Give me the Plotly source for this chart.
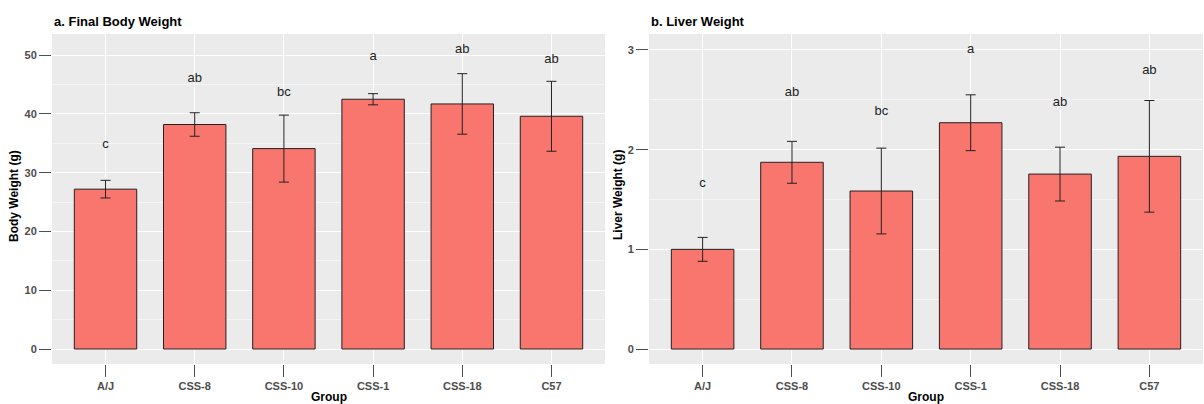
import plotly.graph_objects as go

groups = ["A/J", "CSS-8", "CSS-10", "CSS-1", "CSS-18", "C57"]

body_mean = [27.2, 38.2, 34.1, 42.5, 41.7, 39.6]
body_sd = [1.5, 2.0, 5.7, 0.95, 5.15, 5.95]
body_letters = ["c", "ab", "bc", "a", "ab", "ab"]
body_letter_y = [34.7, 46.0, 43.6, 49.8, 51.0, 49.3]

liver_mean = [1.00, 1.873, 1.585, 2.27, 1.755, 1.933]
liver_sd = [0.12, 0.21, 0.43, 0.28, 0.27, 0.56]
liver_letters = ["c", "ab", "bc", "a", "ab", "ab"]
liver_letter_y = [1.655, 2.57, 2.38, 3.0, 2.47, 2.79]

body_ticks = [0, 10, 20, 30, 40, 50]
liver_ticks = [0, 1, 2, 3]

W, H = 1204, 404
FONT = "Liberation Sans, Arial, Helvetica, sans-serif"
BAR = "#F8766D"

def fx(px):
    return px / W

def fy(py):
    return (H - py) / H

fig = go.Figure()

for i, (mean, sd, letters, ly, xa, ya) in enumerate([
    (body_mean, body_sd, body_letters, body_letter_y, "x", "y"),
    (liver_mean, liver_sd, liver_letters, liver_letter_y, "x2", "y2"),
]):
    fig.add_trace(go.Bar(
        x=groups, y=mean, xaxis=xa, yaxis=ya, width=0.7,
        marker=dict(color=BAR, line=dict(color="#222222", width=1)),
        error_y=dict(type="data", array=sd, visible=True, color="#222222",
                     thickness=1, width=5),
        showlegend=False, hoverinfo="skip",
    ))
    fig.add_trace(go.Scatter(
        x=groups, y=ly, xaxis=xa, yaxis=ya, mode="text", text=letters,
        textfont=dict(family=FONT, size=13, color="#222222"),
        showlegend=False, hoverinfo="skip",
    ))

xaxis_common = dict(
    type="category", range=[-0.6, 5.6], showgrid=True, gridcolor="white",
    gridwidth=1.1, ticks="outside", ticklen=12, tickcolor="#4d4d4d",
    tickwidth=1, zeroline=False, showline=False,
    tickfont=dict(family=FONT, size=11, color="#4d4d4d", weight="bold"),
)
yaxis_common = dict(
    showgrid=True, gridcolor="white", gridwidth=1.1, ticks="outside",
    ticklen=12, tickcolor="#4d4d4d", tickwidth=1, zeroline=False,
    showline=False,
    tickfont=dict(family=FONT, size=11, color="#4d4d4d", weight="bold"),
)

fig.update_layout(
    width=W, height=H, margin=dict(l=0, r=0, t=0, b=0),
    paper_bgcolor="white", plot_bgcolor="#EBEBEB", bargap=0.3,
    xaxis=dict(domain=[fx(52), fx(605)], anchor="y", **xaxis_common),
    xaxis2=dict(domain=[fx(649), fx(1203)], anchor="y2", **xaxis_common),
    yaxis=dict(domain=[fy(364), fy(34)], anchor="x", range=[-2.55, 53.6],
               tickvals=body_ticks,
               minor=dict(tickvals=[5, 15, 25, 35, 45], showgrid=True,
                          gridcolor="#F5F5F5", gridwidth=0.6, ticks=""),
               **yaxis_common),
    yaxis2=dict(domain=[fy(364), fy(34)], anchor="x2", range=[-0.15, 3.16],
                tickvals=liver_ticks,
                minor=dict(tickvals=[0.5, 1.5, 2.5], showgrid=True,
                           gridcolor="#F5F5F5", gridwidth=0.6, ticks=""),
                **yaxis_common),
    font=dict(family=FONT),
)

ann = [
    dict(text="<b>a. Final Body Weight</b>", x=fx(52), y=fy(21), xanchor="left",
         yanchor="middle", font=dict(size=13, color="black")),
    dict(text="<b>b. Liver Weight</b>", x=fx(649), y=fy(21), xanchor="left",
         yanchor="middle", font=dict(size=13, color="black")),
    dict(text="<b>Group</b>", x=fx(328.5), y=fy(397), xanchor="center",
         yanchor="middle", font=dict(size=12, color="black")),
    dict(text="<b>Group</b>", x=fx(926), y=fy(397), xanchor="center",
         yanchor="middle", font=dict(size=12, color="black")),
    dict(text="<b>Body Weight (g)</b>", x=fx(14), y=fy(196), textangle=-90,
         xanchor="center", yanchor="middle", font=dict(size=12, color="black")),
    dict(text="<b>Liver Weight (g)</b>", x=fx(618), y=fy(195), textangle=-90,
         xanchor="center", yanchor="middle", font=dict(size=12, color="black")),
]
for a in ann:
    a.update(xref="paper", yref="paper", showarrow=False)
    a["font"]["family"] = FONT
fig.update_layout(annotations=ann)

fig.write_html("out.html")
